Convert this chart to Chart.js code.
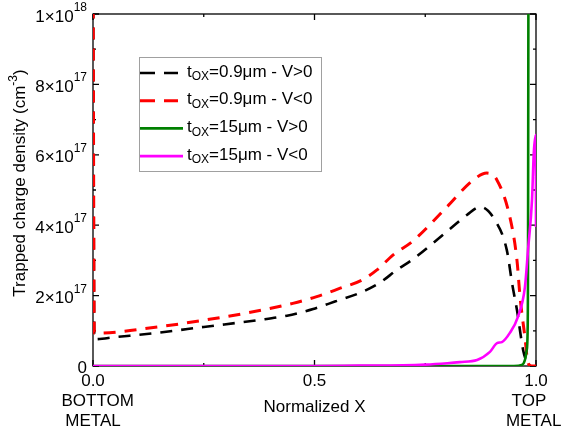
<!DOCTYPE html>
<html>
<head>
<meta charset="utf-8">
<script src="https://cdn.jsdelivr.net/npm/chart.js"></script>
<style>
  html, body { margin: 0; padding: 0; background: #fff; }
  canvas { display: block; }
</style>
</head>
<body>
<canvas id="chart" width="561" height="432"></canvas>
<script>
// x = normalized position, y in units of 1e17 cm^-3
var xBlack = [0, 0.003, 0.05, 0.151, 0.25, 0.377, 0.438, 0.497, 0.546, 0.603, 0.648, 0.686, 0.722, 0.799, 0.844, 0.874, 0.907, 0.934, 0.946, 0.957, 0.971, 0.98, 0.986];
var yBlack = [12, 0.76, 0.82, 0.95, 1.11, 1.31, 1.43, 1.62, 1.83, 2.08, 2.37, 2.73, 3.03, 3.82, 4.29, 4.52, 4.15, 3.30, 2.35, 1.59, 0.45, 0.09, 0];

var xRed = [0, 0.003, 0.151, 0.25, 0.37, 0.451, 0.505, 0.558, 0.607, 0.641, 0.677, 0.722, 0.799, 0.858, 0.889, 0.912, 0.941, 0.957, 0.964, 0.975, 0.982, 0.99, 1.0];
var yRed = [12, 0.93, 1.12, 1.30, 1.56, 1.78, 1.97, 2.21, 2.44, 2.73, 3.15, 3.55, 4.52, 5.28, 5.48, 5.28, 4.23, 3.01, 1.96, 0.82, 0.09, 0, 0];

var xGreen = [0, 0.95, 0.968, 0.975, 0.979, 0.981, 0.982, 0.983];
var yGreen = [0, 0, 0.03, 0.17, 0.45, 0.94, 3, 12];

var xMagenta = [0, 0.5, 0.6, 0.7, 0.75, 0.8, 0.828, 0.867, 0.896, 0.912, 0.923, 0.941, 0.959, 0.975, 0.982, 0.991, 0.995, 0.9995, 1.0];
var yMagenta = [0, 0, 0.01, 0.02, 0.04, 0.08, 0.11, 0.17, 0.40, 0.65, 0.68, 0.94, 1.39, 2.24, 3.30, 4.72, 6.05, 6.56, 3.95];

// legend text: t + subscript OX + rest
var legendRest = ['=0.9\u03bcm - V>0', '=0.9\u03bcm - V<0', '=15\u03bcm - V>0', '=15\u03bcm - V<0'];
var colors = ['#000000', '#ff0000', '#008000', '#ff00ff'];

var xTickValues = [0, 0.5, 1];
var xTickText = [['0.0', '  BOTTOM', 'METAL'], ['0.5'], ['1.0', 'TOP   ', 'METAL ']];
var yTickValues = [0, 2, 4, 6, 8, 10];

var FONT = '"Liberation Sans", Arial, sans-serif';

function pts(xs, ys) {
  return xs.map(function(x, i) { return { x: x, y: ys[i] * 1e17 }; });
}

// frame with inward ticks on all four sides
var frame = {
  id: 'frame',
  beforeDatasetsDraw: function(chart) {
    var ctx = chart.ctx, a = chart.chartArea;
    var xs = chart.scales.x, ys = chart.scales.y;
    ctx.save();
    ctx.strokeStyle = '#000';
    ctx.lineWidth = 1.3;
    ctx.strokeRect(a.left, a.top, a.right - a.left, a.bottom - a.top);
    ctx.beginPath();
    for (var v = 0; v <= 10; v++) {
      var py = ys.getPixelForValue(v * 1e17);
      var len = v % 2 == 0 ? 6 : 3;
      ctx.moveTo(a.left, py); ctx.lineTo(a.left + len, py);
      ctx.moveTo(a.right, py); ctx.lineTo(a.right - len, py);
    }
    for (var k = 0; k <= 4; k++) {
      var px = xs.getPixelForValue(k * 0.25);
      var l2 = k % 2 == 0 ? 6 : 3;
      ctx.moveTo(px, a.bottom); ctx.lineTo(px, a.bottom - l2);
      ctx.moveTo(px, a.top); ctx.lineTo(px, a.top + l2);
    }
    ctx.stroke();
    ctx.restore();
  },
  afterDraw: function(chart) {
    var ctx = chart.ctx, a = chart.chartArea, ys = chart.scales.y;
    ctx.save();
    ctx.fillStyle = '#000';

    // y tick labels with superscript exponent
    yTickValues.forEach(function(v) {
      var py = ys.getPixelForValue(v * 1e17);
      var xr = a.left - 6;
      if (v == 0) {
        ctx.font = '17px ' + FONT;
        ctx.textAlign = 'right'; ctx.textBaseline = 'middle';
        ctx.fillText('0', xr, py + 2);
        return;
      }
      var mant = v == 10 ? '1' : String(v);
      var expo = v == 10 ? '18' : '17';
      ctx.font = '12px ' + FONT;
      var ew = ctx.measureText(expo).width;
      ctx.textAlign = 'left'; ctx.textBaseline = 'alphabetic';
      ctx.fillText(expo, xr - ew, py - 3);
      ctx.font = '17px ' + FONT;
      ctx.textAlign = 'right'; ctx.textBaseline = 'middle';
      ctx.fillText(mant + '\u00d710', xr - ew, py + 3);
    });

    // y title
    ctx.save();
    ctx.translate(20, 183);
    ctx.rotate(-Math.PI / 2);
    ctx.textAlign = 'left'; ctx.textBaseline = 'middle';
    ctx.font = '17px ' + FONT;
    var t1 = 'Trapped charge density (cm', t3 = ')';
    var w1 = ctx.measureText(t1).width, w3 = ctx.measureText(t3).width;
    ctx.font = '12px ' + FONT;
    var w2 = ctx.measureText('-3').width;
    var x0 = -(w1 + w2 + w3) / 2;
    ctx.font = '17px ' + FONT;
    ctx.fillText(t1, x0, 0);
    ctx.fillText(t3, x0 + w1 + w2, 0);
    ctx.font = '12px ' + FONT;
    ctx.fillText('-3', x0 + w1, -6);
    ctx.restore();

    // x title
    ctx.font = '17px ' + FONT;
    ctx.textAlign = 'center'; ctx.textBaseline = 'middle';
    ctx.fillText('Normalized X', (a.left + a.right) / 2, 407);

    // legend box
    ctx.fillStyle = '#fff';
    ctx.fillRect(139, 57, 182, 114);
    ctx.strokeStyle = '#a0a0a0';
    ctx.lineWidth = 1;
    ctx.strokeRect(139.5, 57.5, 182, 114);
    for (var i = 0; i < 4; i++) {
      var ly = 73 + i * 27.7;
      ctx.beginPath();
      ctx.strokeStyle = colors[i];
      ctx.lineWidth = i == 1 ? 3 : 2.6;
      ctx.setLineDash(i < 2 ? [15, 9] : []);
      ctx.moveTo(140, ly); ctx.lineTo(i < 2 ? 178 : 183, ly);
      ctx.stroke();
      ctx.setLineDash([]);
      ctx.fillStyle = '#000';
      ctx.textAlign = 'left'; ctx.textBaseline = 'middle';
      ctx.font = '17px ' + FONT;
      var tx = 187;
      ctx.fillText('t', tx, ly - 1);
      tx += ctx.measureText('t').width;
      ctx.font = '12px ' + FONT;
      ctx.fillText('OX', tx, ly + 4);
      tx += ctx.measureText('OX').width;
      ctx.font = '17px ' + FONT;
      ctx.fillText(legendRest[i], tx, ly - 1);
    }
    ctx.restore();
  }
};

var chart = new Chart('chart', {
  type: 'line',
  data: {
    datasets: [
      { label: 'tOX' + legendRest[0], data: pts(xBlack, yBlack), borderColor: colors[0], borderWidth: 2.6, borderDash: [12, 9], order: 4 },
      { label: 'tOX' + legendRest[1], data: pts(xRed, yRed), borderColor: colors[1], borderWidth: 3, borderDash: [12, 9], order: 3 },
      { label: 'tOX' + legendRest[2], data: pts(xGreen, yGreen), borderColor: colors[2], borderWidth: 2.6, order: 2 },
      { label: 'tOX' + legendRest[3], data: pts(xMagenta, yMagenta), borderColor: colors[3], borderWidth: 2.6, order: 1 }
    ]
  },
  options: {
    responsive: false,
    animation: false,
    layout: { padding: { left: 0, right: 25, top: 14, bottom: 0 } },
    elements: {
      point: { radius: 0 },
      line: { fill: false, cubicInterpolationMode: 'monotone' }
    },
    plugins: {
      legend: { display: false },
      tooltip: { enabled: false }
    },
    scales: {
      x: {
        type: 'linear',
        min: 0, max: 1,
        afterBuildTicks: function(s) { s.ticks = xTickValues.map(function(v) { return { value: v }; }); },
        afterFit: function(s) { s.height = 66; s.paddingLeft = 0; s.paddingRight = 0; },
        grid: { display: false, drawTicks: false },
        border: { display: false },
        ticks: {
          autoSkip: false, maxRotation: 0, padding: 5, color: '#000',
          font: { family: FONT, size: 17, lineHeight: 1.18 },
          callback: function(v) { return xTickText[xTickValues.indexOf(v)]; }
        }
      },
      y: {
        min: 0, max: 1e18,
        afterFit: function(s) { s.width = 93; },
        grid: { display: false, drawTicks: false },
        border: { display: false },
        ticks: { display: false }
      }
    }
  },
  plugins: [frame]
});
</script>
</body>
</html>
